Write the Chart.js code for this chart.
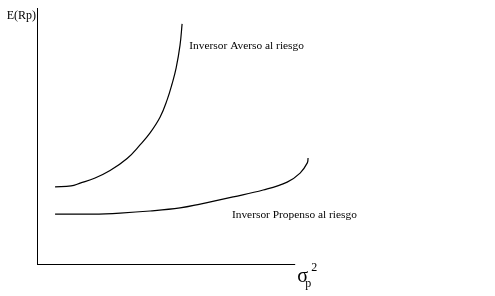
<!DOCTYPE html>
<html>
<head>
<meta charset="utf-8">
<script src="https://cdn.jsdelivr.net/npm/chart.js@4/dist/chart.umd.min.js"></script>
<style>
html,body{margin:0;padding:0;background:#fff;}
#wrap{width:495px;height:296px;}
</style>
</head>
<body>
<div id="wrap"><canvas id="c" width="495" height="296"></canvas></div>
<script>
// Curve: Inversor Averso al riesgo
const aversoX = [0.70, 1.32, 1.67, 2.25, 2.83, 3.49, 3.99, 4.38, 4.77, 5.04, 5.23, 5.39, 5.54, 5.62];
const aversoY = [3.01, 3.05, 3.16, 3.36, 3.65, 4.12, 4.65, 5.12, 5.74, 6.41, 7.03, 7.66, 8.55, 9.38];
// Curve: Inversor Propenso al riesgo
const propensoX = [0.70, 2.17, 3.22, 4.38, 5.54, 6.32, 7.60, 8.76, 9.69, 10.19, 10.47, 10.50];
const propensoY = [1.95, 1.95, 1.99, 2.07, 2.19, 2.34, 2.62, 2.89, 3.20, 3.55, 3.95, 4.14];
// Text labels
const seriesLabels = ["Inversor Averso al riesgo", "Inversor Propenso al riesgo"];
const labelPos = [[5.9, 8.4], [7.55, 1.8]];
const yAxisTitle = "E(Rp)";
const xAxisEnd = 10;

const toPts = (xs, ys) => xs.map((x, i) => ({x: x, y: ys[i]}));

const textPlugin = {
  id: 'texts',
  afterDraw(chart) {
    const ctx = chart.ctx;
    const xs = chart.scales.x, ys = chart.scales.y;
    ctx.save();
    // x axis line from 0 to xAxisEnd
    ctx.strokeStyle = '#000';
    ctx.lineWidth = 1;
    const yb = Math.round(ys.getPixelForValue(0)) + 0.5;
    const x0 = xs.getPixelForValue(0), x1 = xs.getPixelForValue(xAxisEnd);
    ctx.beginPath();
    ctx.moveTo(x0, yb);
    ctx.lineTo(x1, yb);
    ctx.stroke();

    ctx.fillStyle = '#000';
    ctx.textBaseline = 'alphabetic';
    ctx.textAlign = 'left';
    ctx.font = '11.4px "Liberation Serif"';
    seriesLabels.forEach((t, i) => {
      ctx.fillText(t, xs.getPixelForValue(labelPos[i][0]), ys.getPixelForValue(labelPos[i][1]));
    });
    // y axis title
    ctx.font = '12px "Liberation Serif"';
    ctx.textAlign = 'right';
    ctx.fillText(yAxisTitle, x0 - 1, ys.top + 11);
    // x axis title sigma_p^2
    ctx.textAlign = 'left';
    const bx = x1 + 2, by = yb + 17;
    ctx.font = '20px "Liberation Serif"';
    ctx.fillText('σ', bx, by);
    ctx.font = '12px "Liberation Serif"';
    ctx.fillText('p', bx + 8, by + 5);
    ctx.fillText('2', bx + 14, by - 11);
    ctx.restore();
  }
};

new Chart(document.getElementById('c'), {
  type: 'scatter',
  data: {
    datasets: [
      {data: toPts(aversoX, aversoY), showLine: true, borderColor: '#000', borderWidth: 1.2, pointRadius: 0, tension: 0.4, clip: false, fill: false},
      {data: toPts(propensoX, propensoY), showLine: true, borderColor: '#000', borderWidth: 1.2, pointRadius: 0, tension: 0.4, clip: false, fill: false}
    ]
  },
  options: {
    responsive: false,
    animation: false,
    devicePixelRatio: 1,
    layout: {padding: {left: 37, top: 8, right: 174, bottom: 32}},
    plugins: {legend: {display: false}, tooltip: {enabled: false}},
    scales: {
      x: {type: 'linear', min: 0, max: 11, ticks: {display: false}, grid: {display: false, drawTicks: false}, border: {display: false}},
      y: {type: 'linear', min: 0, max: 10, ticks: {display: false}, grid: {display: false, drawTicks: false}, border: {display: true, color: '#000', width: 1}}
    }
  },
  plugins: [textPlugin]
});
</script>
</body>
</html>
